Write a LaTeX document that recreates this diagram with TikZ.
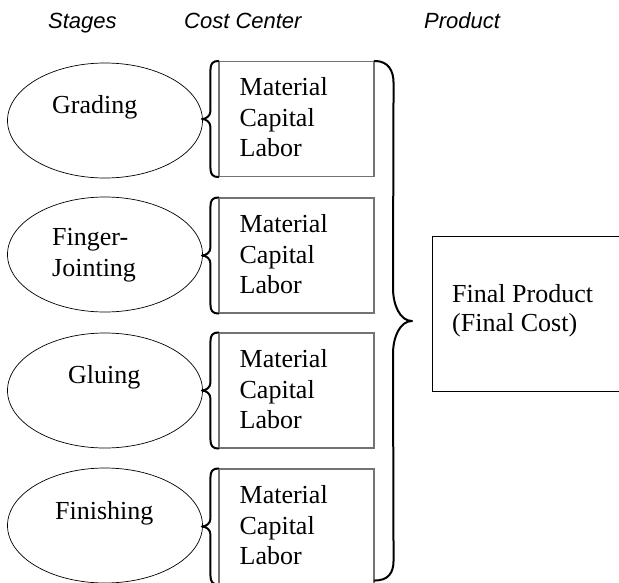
\documentclass[tikz,border=0pt]{standalone}
\usepackage{fontspec}
\setmainfont{Liberation Serif}
\newfontfamily\hdrfont{Liberation Sans}
\usetikzlibrary{shapes.geometric,calc}
\begin{document}
\begin{tikzpicture}[x=1pt,y=-1pt,
  stage/.style={draw,ellipse,line width=0.7pt,minimum width=195pt,minimum height=115pt,inner sep=0pt},
  ccbox/.style={draw=black!55,line width=1.1pt,minimum width=155pt,minimum height=115pt,inner sep=0pt},
  prodbox/.style={draw,line width=0.8pt,minimum width=200pt,minimum height=155pt,inner sep=0pt,anchor=north west},
  body/.style={font=\fontsize{26}{31}\selectfont,inner sep=0pt,anchor=base west},
  hdr/.style={font=\hdrfont\itshape\fontsize{22}{26}\selectfont,inner sep=0pt,anchor=base west},
  bracestyle/.style={line width=2pt,line join=round,line cap=round}]
\useasboundingbox (0,0) rectangle (619,582);
\clip (0,0) rectangle (619,582);
% headers
\node[hdr] (hs) at (48,28) {Stages};
\node[hdr] (hc) at (184,28) {Cost Center};
\node[hdr] (hp) at (424,28) {Product};
% stages
\node[stage] (s1) at (105,120.5) {};
\node[stage] (s2) at (105,254.5) {};
\node[stage] (s3) at (105,390.5) {};
\node[stage] (s4) at (105,525.5) {};
\node[body] (t1) at (52,113) {Grading};
\node[body] (t2a) at (52,245) {Finger-};
\node[body] (t2b) at (52,276) {Jointing};
\node[body] (t3) at (68,383) {Gluing};
\node[body] (t4) at (55,519) {Finishing};
% cost centers
\foreach \i/\cy in {1/119, 2/255.5, 3/390.5, 4/526.5} {
  \node[ccbox] (b\i) at (296.5,\cy) {};
  \node[body] (m\i) at ($(b\i.north west)+(21,35)$) {Material};
  \node[body] (c\i) at ($(b\i.north west)+(21,66)$) {Capital};
  \node[body] (l\i) at ($(b\i.north west)+(21,96)$) {Labor};
  \coordinate (tip\i) at ($(b\i.west)+(-16.5,0)$);
  \draw[bracestyle] (b\i.north west)
     .. controls +(-6,0) and +(0,-6) .. ($(b\i.north west)+(-8,9)$)
     -- ($(b\i.west)+(-8,-8)$)
     .. controls +(0,5) and +(4,0) .. (tip\i)
     .. controls +(4,0) and +(0,-5) .. ($(b\i.west)+(-8,8)$)
     -- ($(b\i.south west)+(-8,-9)$)
     .. controls +(0,6) and +(-6,0) .. (b\i.south west);
}
% product
\node[prodbox] (fp) at (432,236) {};
\node[body] (f1) at (452,302) {Final Product};
\node[body] (f2) at (452,331) {(Final Cost)};
% big brace
\coordinate (btop) at (b1.north east);
\coordinate (bbot) at ($(b4.south east)+(0,-4)$);
\coordinate (btip) at (412,321);
\draw[bracestyle] (btop)
   .. controls +(14,0) and +(0,-12) .. ($(btop)+(19,22)$)
   -- (393,288)
   .. controls (393,305) and (400,321) .. (btip)
   .. controls (400,321) and (393,337) .. (393,354)
   -- ($(bbot)+(19,-20)$)
   .. controls +(0,12) and +(14,0) .. (bbot);
\end{tikzpicture}
\end{document}
